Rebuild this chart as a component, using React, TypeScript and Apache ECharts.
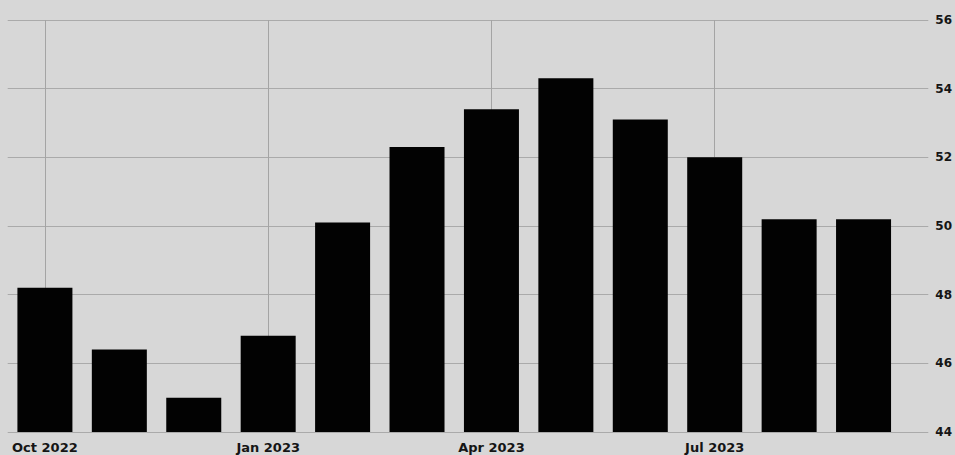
import React, { useEffect, useRef } from "react";
import * as echarts from "echarts";

const months = [
  "Oct 2022", "Nov 2022", "Dec 2022", "Jan 2023", "Feb 2023", "Mar 2023",
  "Apr 2023", "May 2023", "Jun 2023", "Jul 2023", "Aug 2023", "Sep 2023",
];
const values = [48.2, 46.4, 45.0, 46.8, 50.1, 52.3, 53.4, 54.3, 53.1, 52.0, 50.2, 50.2];
const labelledMonths = [0, 3, 6, 9];
const yTicks = { min: 44, max: 56, interval: 2 };

export default function App() {
  const ref = useRef<HTMLDivElement>(null);
  useEffect(() => {
    if (!ref.current) return;
    const chart = echarts.init(ref.current, null, { renderer: "svg" });
    const data = values.map((v, i) => [i, v]);
    chart.setOption({
      animation: false,
      backgroundColor: "#d7d7d7",
      grid: { left: 7.7, right: 25, top: 20, bottom: 23, containLabel: false },
      xAxis: {
        type: "value",
        min: -0.5,
        max: 11.87,
        axisLine: { show: false },
        axisTick: { show: false, customValues: labelledMonths },
        axisLabel: {
          customValues: labelledMonths,
          formatter: (v: number) => months[Math.round(v)] ?? "",
          margin: 9,
          fontFamily: "DejaVu Sans",
          fontWeight: "bold",
          fontSize: 13,
          color: "#151515",
        },
        splitLine: { show: true, lineStyle: { color: "#a4a4a4", width: 1 } },
      },
      yAxis: {
        type: "value",
        position: "right",
        min: yTicks.min,
        max: yTicks.max,
        interval: yTicks.interval,
        axisLine: { show: false },
        axisTick: { show: false },
        axisLabel: {
          margin: 7,
          fontFamily: "DejaVu Sans",
          fontWeight: "bold",
          fontSize: 12,
          color: "#151515",
        },
        splitLine: { show: true, lineStyle: { color: "#aaaaaa", width: 1 } },
      },
      series: [
        {
          type: "bar",
          data,
          barWidth: 55,
          itemStyle: { color: "#020202" },
        },
      ],
    });
    return () => chart.dispose();
  }, []);
  return (
    <div
      ref={ref}
      style={{ position: "fixed", left: 0, top: 0, width: 955, height: 455 }}
    />
  );
}
